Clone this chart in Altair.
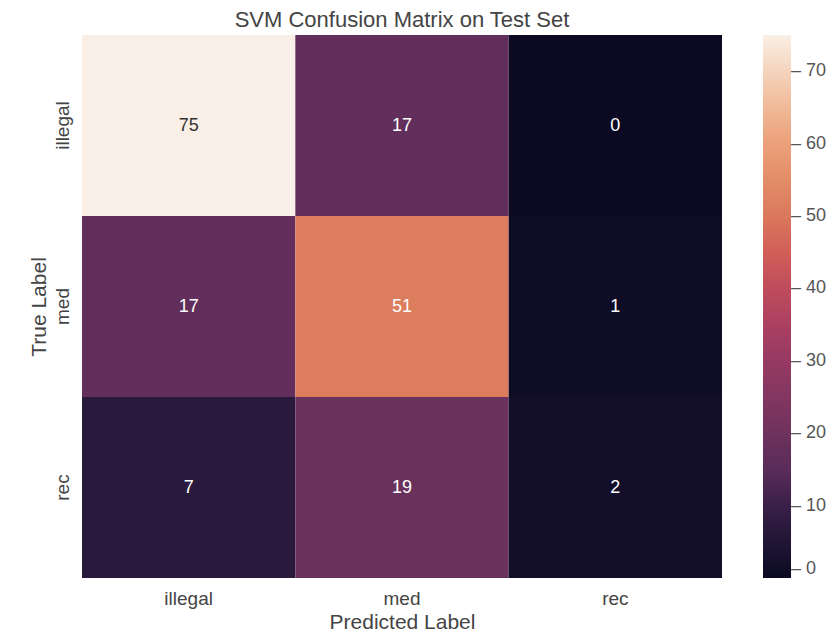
import altair as alt
import pandas as pd

labels = ["illegal", "med", "rec"]
true_labels = ["illegal", "illegal", "illegal", "med", "med", "med", "rec", "rec", "rec"]
pred_labels = ["illegal", "med", "rec", "illegal", "med", "rec", "illegal", "med", "rec"]
counts = [75, 17, 0, 17, 51, 1, 7, 19, 2]
cbar_ticks = [0, 10, 20, 30, 40, 50, 60, 70]
ramp = ["#0B0A22", "#2A1A3F", "#5A2C5A", "#78355F", "#963963", "#B5435F",
        "#D15F57", "#DF8460", "#EBA079", "#F3C6A8", "#FAEFE6"]

df = pd.DataFrame({"true": true_labels, "pred": pred_labels, "count": counts})

FONT = "Liberation Sans"

base = alt.Chart(df).encode(
    x=alt.X("pred:N", sort=labels, scale=alt.Scale(paddingInner=0, paddingOuter=0),
            axis=alt.Axis(title="Predicted Label", labelAngle=0, domain=False, ticks=False,
                          labelFontSize=19, titleFontSize=21, labelPadding=11, titlePadding=3,
                          labelColor="#444", titleColor="#444", labelFont=FONT, titleFont=FONT,
                          titleFontWeight="normal")),
    y=alt.Y("true:N", sort=labels, scale=alt.Scale(paddingInner=0, paddingOuter=0),
            axis=alt.Axis(title="True Label", labelAngle=-90, domain=False, ticks=False,
                          labelAlign="center", labelBaseline="bottom",
                          labelFontSize=19, titleFontSize=21, labelPadding=10, titlePadding=4,
                          labelColor="#444", titleColor="#444", labelFont=FONT, titleFont=FONT,
                          titleFontWeight="normal")),
)

rect = base.mark_rect().encode(
    color=alt.Color("count:Q", scale=alt.Scale(domain=[0, 75], range=ramp, interpolate="rgb"),
                    legend=alt.Legend(type="gradient", title=None, values=cbar_ticks,
                                      gradientLength=543, gradientThickness=28, offset=41,
                                      labelFontSize=18, labelColor="#555", labelFont=FONT,
                                      labelOffset=0, labelBaseline="middle",
                                      labelExpr="'– ' + datum.label",
                                      gradientStrokeWidth=0, direction="vertical",
                                      orient="right")),
)

text = base.mark_text(fontSize=18, font=FONT).encode(
    text="count:Q",
    color=alt.condition(alt.datum.count > 60, alt.value("#333333"), alt.value("#ffffff")),
)

chart = (rect + text).properties(
    width=640, height=543,
    title=alt.TitleParams("SVM Confusion Matrix on Test Set", fontSize=22, font=FONT,
                          fontWeight="normal", color="#444", offset=3),
    autosize=alt.AutoSizeParams(type="none"),
    padding={"left": 74, "top": 27, "right": 104, "bottom": 55},
).configure_view(stroke=None)

chart.save("out.html", embed_options={"renderer": "svg", "actions": False})
